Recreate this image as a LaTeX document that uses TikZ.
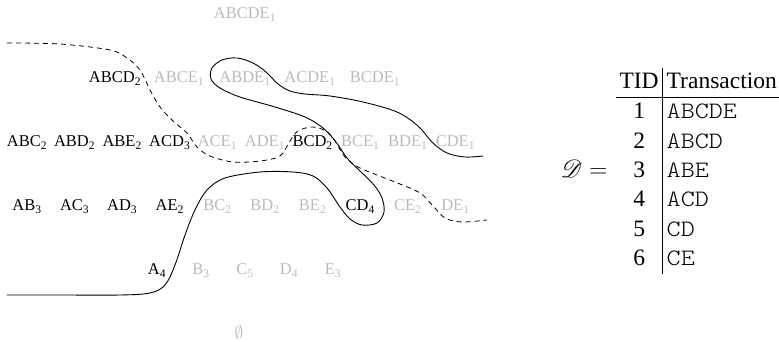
\documentclass[tikz,border=0pt]{standalone}
\usepackage{fontspec}
\setmainfont{Liberation Serif}
\usepackage{graphicx}
\usepackage{mathrsfs}
\newcommand\trx[1]{\scalebox{1.14}[1]{\fontseries{l}\ttfamily #1}}
\begin{document}
\begin{tikzpicture}[x=1pt,y=-1pt,
  lbl/.style={inner sep=0pt, anchor=base, font=\fontsize{16.5}{20}\selectfont},
  on/.style={lbl, text=black},
  off/.style={lbl, text=black!27},
  border/.style={line width=0.9pt, black},
  dborder/.style={line width=0.8pt, black, dash pattern=on 5pt off 4pt}]
\useasboundingbox (0,0) rectangle (779,342);
% level 5
\node[off] (abcde) at (245,18.5) {ABCDE\textsubscript{1}};
% level 4
\node[on]  (abcd) at (115,82.5) {ABCD\textsubscript{2}};
\node[off] (abce) at (179,82.5) {ABCE\textsubscript{1}};
\node[off] (abde) at (245,82.5) {ABDE\textsubscript{1}};
\node[off] (acde) at (310,82.5) {ACDE\textsubscript{1}};
\node[off] (bcde) at (375,82.5) {BCDE\textsubscript{1}};
% level 3
\node[on]  (abc) at (27,146.5) {ABC\textsubscript{2}};
\node[on]  (abd) at (74.6,146.5) {ABD\textsubscript{2}};
\node[on]  (abe) at (122.2,146.5) {ABE\textsubscript{2}};
\node[on]  (acd) at (169.8,146.5) {ACD\textsubscript{3}};
\node[off] (ace) at (217.4,146.5) {ACE\textsubscript{1}};
\node[off] (ade) at (265,146.5) {ADE\textsubscript{1}};
\node[on]  (bcd) at (312.6,146.5) {BCD\textsubscript{2}};
\node[off] (bce) at (360.2,146.5) {BCE\textsubscript{1}};
\node[off] (bde) at (407.8,146.5) {BDE\textsubscript{1}};
\node[off] (cde) at (455.4,146.5) {CDE\textsubscript{1}};
% level 2
\node[on]  (ab) at (27,210.5) {AB\textsubscript{3}};
\node[on]  (ac) at (74.6,210.5) {AC\textsubscript{3}};
\node[on]  (ad) at (122.2,210.5) {AD\textsubscript{3}};
\node[on]  (ae) at (169.8,210.5) {AE\textsubscript{2}};
\node[off] (bc) at (217.4,210.5) {BC\textsubscript{2}};
\node[off] (bd) at (265,210.5) {BD\textsubscript{2}};
\node[off] (be) at (312.6,210.5) {BE\textsubscript{2}};
\node[on]  (cd) at (360.2,210.5) {CD\textsubscript{4}};
\node[off] (ce) at (407.8,210.5) {CE\textsubscript{2}};
\node[off] (de) at (455.4,210.5) {DE\textsubscript{1}};
% level 1
\node[on]  (a) at (157,274.5) {A\textsubscript{4}};
\node[off] (b) at (201,274.5) {B\textsubscript{3}};
\node[off] (c) at (245,274.5) {C\textsubscript{5}};
\node[off] (d) at (289,274.5) {D\textsubscript{4}};
\node[off] (e) at (333,274.5) {E\textsubscript{3}};
% level 0
\node[off] (empty) at (239,338) {$\emptyset$};
% solid border
\draw[border] plot[smooth, tension=0.55] coordinates {
 (7,295) (60,295) (120,295) (150,293) (165,285) (175,265) (185,235) (195,210)
 (207,190) (225,178) (260,172) (293,172) (313,176) (327,188) (340,207) (350,219)
 (362,225) (377,223) (384,212) (382,198) (374,185) (360,171) (347,158) (336,142)
 (323,128) (305,117) (275,107) (240,97) (220,88) (211,79) (212,68) (222,60)
 (237,58) (253,63) (266,72) (278,84) (290,91) (305,94) (330,96) (363,102)
 (397,112) (418,126) (433,143) (447,153) (465,157) (483,156)};
% dashed border
\draw[dborder] plot[smooth, tension=0.55] coordinates {
 (7,43) (60,44) (110,50) (127,58) (140,70) (150,90) (160,107) (173,121)
 (187,133) (197,147) (210,156) (233,162) (260,161) (280,156) (290,141)
 (298,131) (312,127) (326,131) (335,141) (345,157) (360,168) (395,182)
 (420,193) (433,206) (445,218) (462,222) (487,220)};
% database
\node[anchor=north east, inner sep=0pt, font=\fontsize{23.5}{29.3}\selectfont] (tab) at (781,68)
 {\setlength\tabcolsep{4pt}\setlength\arrayrulewidth{0.9pt}%
  \begin{tabular}{c|l}
  TID & Transaction\\ \hline
  1 & \trx{ABCDE}\\
  2 & \trx{ABCD}\\
  3 & \trx{ABE}\\
  4 & \trx{ACD}\\
  5 & \trx{CD}\\
  6 & \trx{CE}
  \end{tabular}};
\node[anchor=base, inner sep=0pt, font=\fontsize{23.5}{29.3}\selectfont] (dlabel) at (584,177.3) {$\mathscr{D} =$};
\end{tikzpicture}
\end{document}
